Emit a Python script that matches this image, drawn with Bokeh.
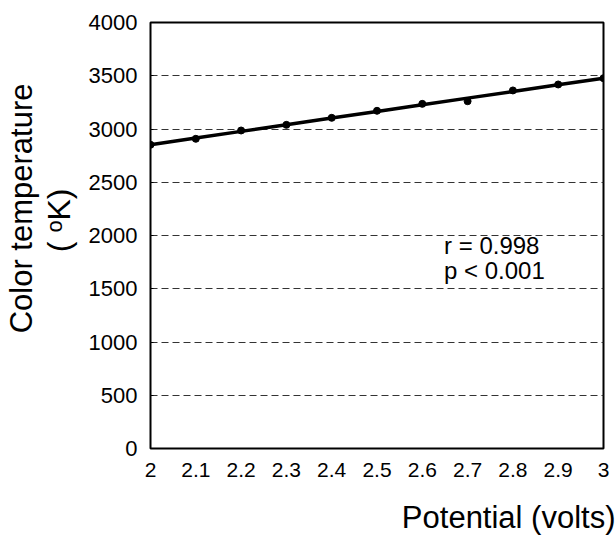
import numpy as np
from bokeh.plotting import figure
from bokeh.models import Label, FixedTicker, NumeralTickFormatter, Range1d, Title
from bokeh.embed import file_html
from bokeh.resources import INLINE

volts = [2.0, 2.1, 2.2, 2.3, 2.4, 2.5, 2.6, 2.7, 2.8, 2.9, 3.0]
temps = [2852, 2908, 2986, 3039, 3105, 3171, 3236, 3261, 3362, 3418, 3477]
x_tick_labels = ["2", "2.1", "2.2", "2.3", "2.4", "2.5", "2.6", "2.7", "2.8", "2.9", "3"]
y_ticks = [0, 500, 1000, 1500, 2000, 2500, 3000, 3500, 4000]
stats = ["r = 0.998", "p < 0.001"]
stat_pos = [(2.648, 1906), (2.648, 1671)]

FONT = "Liberation Sans"

p = figure(width=616, height=536, output_backend="svg", toolbar_location=None,
           x_range=Range1d(2, 3), y_range=Range1d(0, 4000),
           min_border_left=150, min_border_right=13, min_border_top=22, min_border_bottom=88)
p.background_fill_color = "white"
p.border_fill_color = "white"
p.outline_line_color = "black"
p.outline_line_width = 2

# axes
p.xaxis.ticker = FixedTicker(ticks=volts)
p.xaxis.formatter = NumeralTickFormatter(format="0.[0]")
p.xaxis.major_label_overrides = {v: s for v, s in zip(volts, x_tick_labels)}
p.yaxis.ticker = FixedTicker(ticks=y_ticks)
for ax in (p.xaxis, p.yaxis):
    ax.axis_line_color = None
    ax.minor_tick_line_color = None
    ax.major_label_text_font = FONT
    ax.major_label_text_color = "black"
p.xaxis.major_label_text_font_size = "21px"
p.yaxis.major_label_text_font_size = "22px"
p.xaxis.major_tick_line_color = None
p.xaxis.major_label_standoff = 8
p.yaxis.major_tick_in = 3
p.yaxis.major_tick_out = 0
p.yaxis.major_tick_line_color = "black"
p.yaxis.major_label_standoff = 13

p.xgrid.grid_line_color = None
p.ygrid.ticker = FixedTicker(ticks=[500, 1000, 1500, 2000, 2500, 3000, 3500])
p.ygrid.grid_line_color = "#333333"
p.ygrid.grid_line_width = 1
p.ygrid.grid_line_dash = "7 4"

# regression line and points
slope, intercept = np.polyfit(volts, temps, 1)
fit = [slope * v + intercept for v in volts]
p.line(volts, fit, line_color="black", line_width=3.5)
p.scatter(volts, temps, size=7, fill_color="black", line_color="black")

for txt, (sx, sy) in zip(stats, stat_pos):
    p.add_layout(Label(x=sx, y=sy, text=txt, text_font=FONT, text_font_size="24px",
                       text_baseline="middle", text_align="left", text_color="black"))

def spacer(gap):
    return Title(text=" ", text_font_size="1px", standoff=gap)

# axis titles as layout titles (left side, from frame outward)
p.add_layout(spacer(6), "left")
p.add_layout(Title(text="( \u1d52K)", align="right", offset=166, text_font=FONT,
                   text_font_size="32px", text_font_style="normal", text_color="black",
                   standoff=0), "left")
p.add_layout(Title(text="Color temperature", align="right", offset=61, text_font=FONT,
                   text_font_size="31px", text_font_style="normal", text_color="black",
                   standoff=0), "left")

# x title below
p.add_layout(spacer(15), "below")
p.add_layout(Title(text="Potential (volts)", align="right", offset=-12, text_font=FONT,
                   text_font_size="31px", text_font_style="normal", text_color="black",
                   standoff=0), "below")

open("out.html", "w").write(file_html(p, INLINE))
